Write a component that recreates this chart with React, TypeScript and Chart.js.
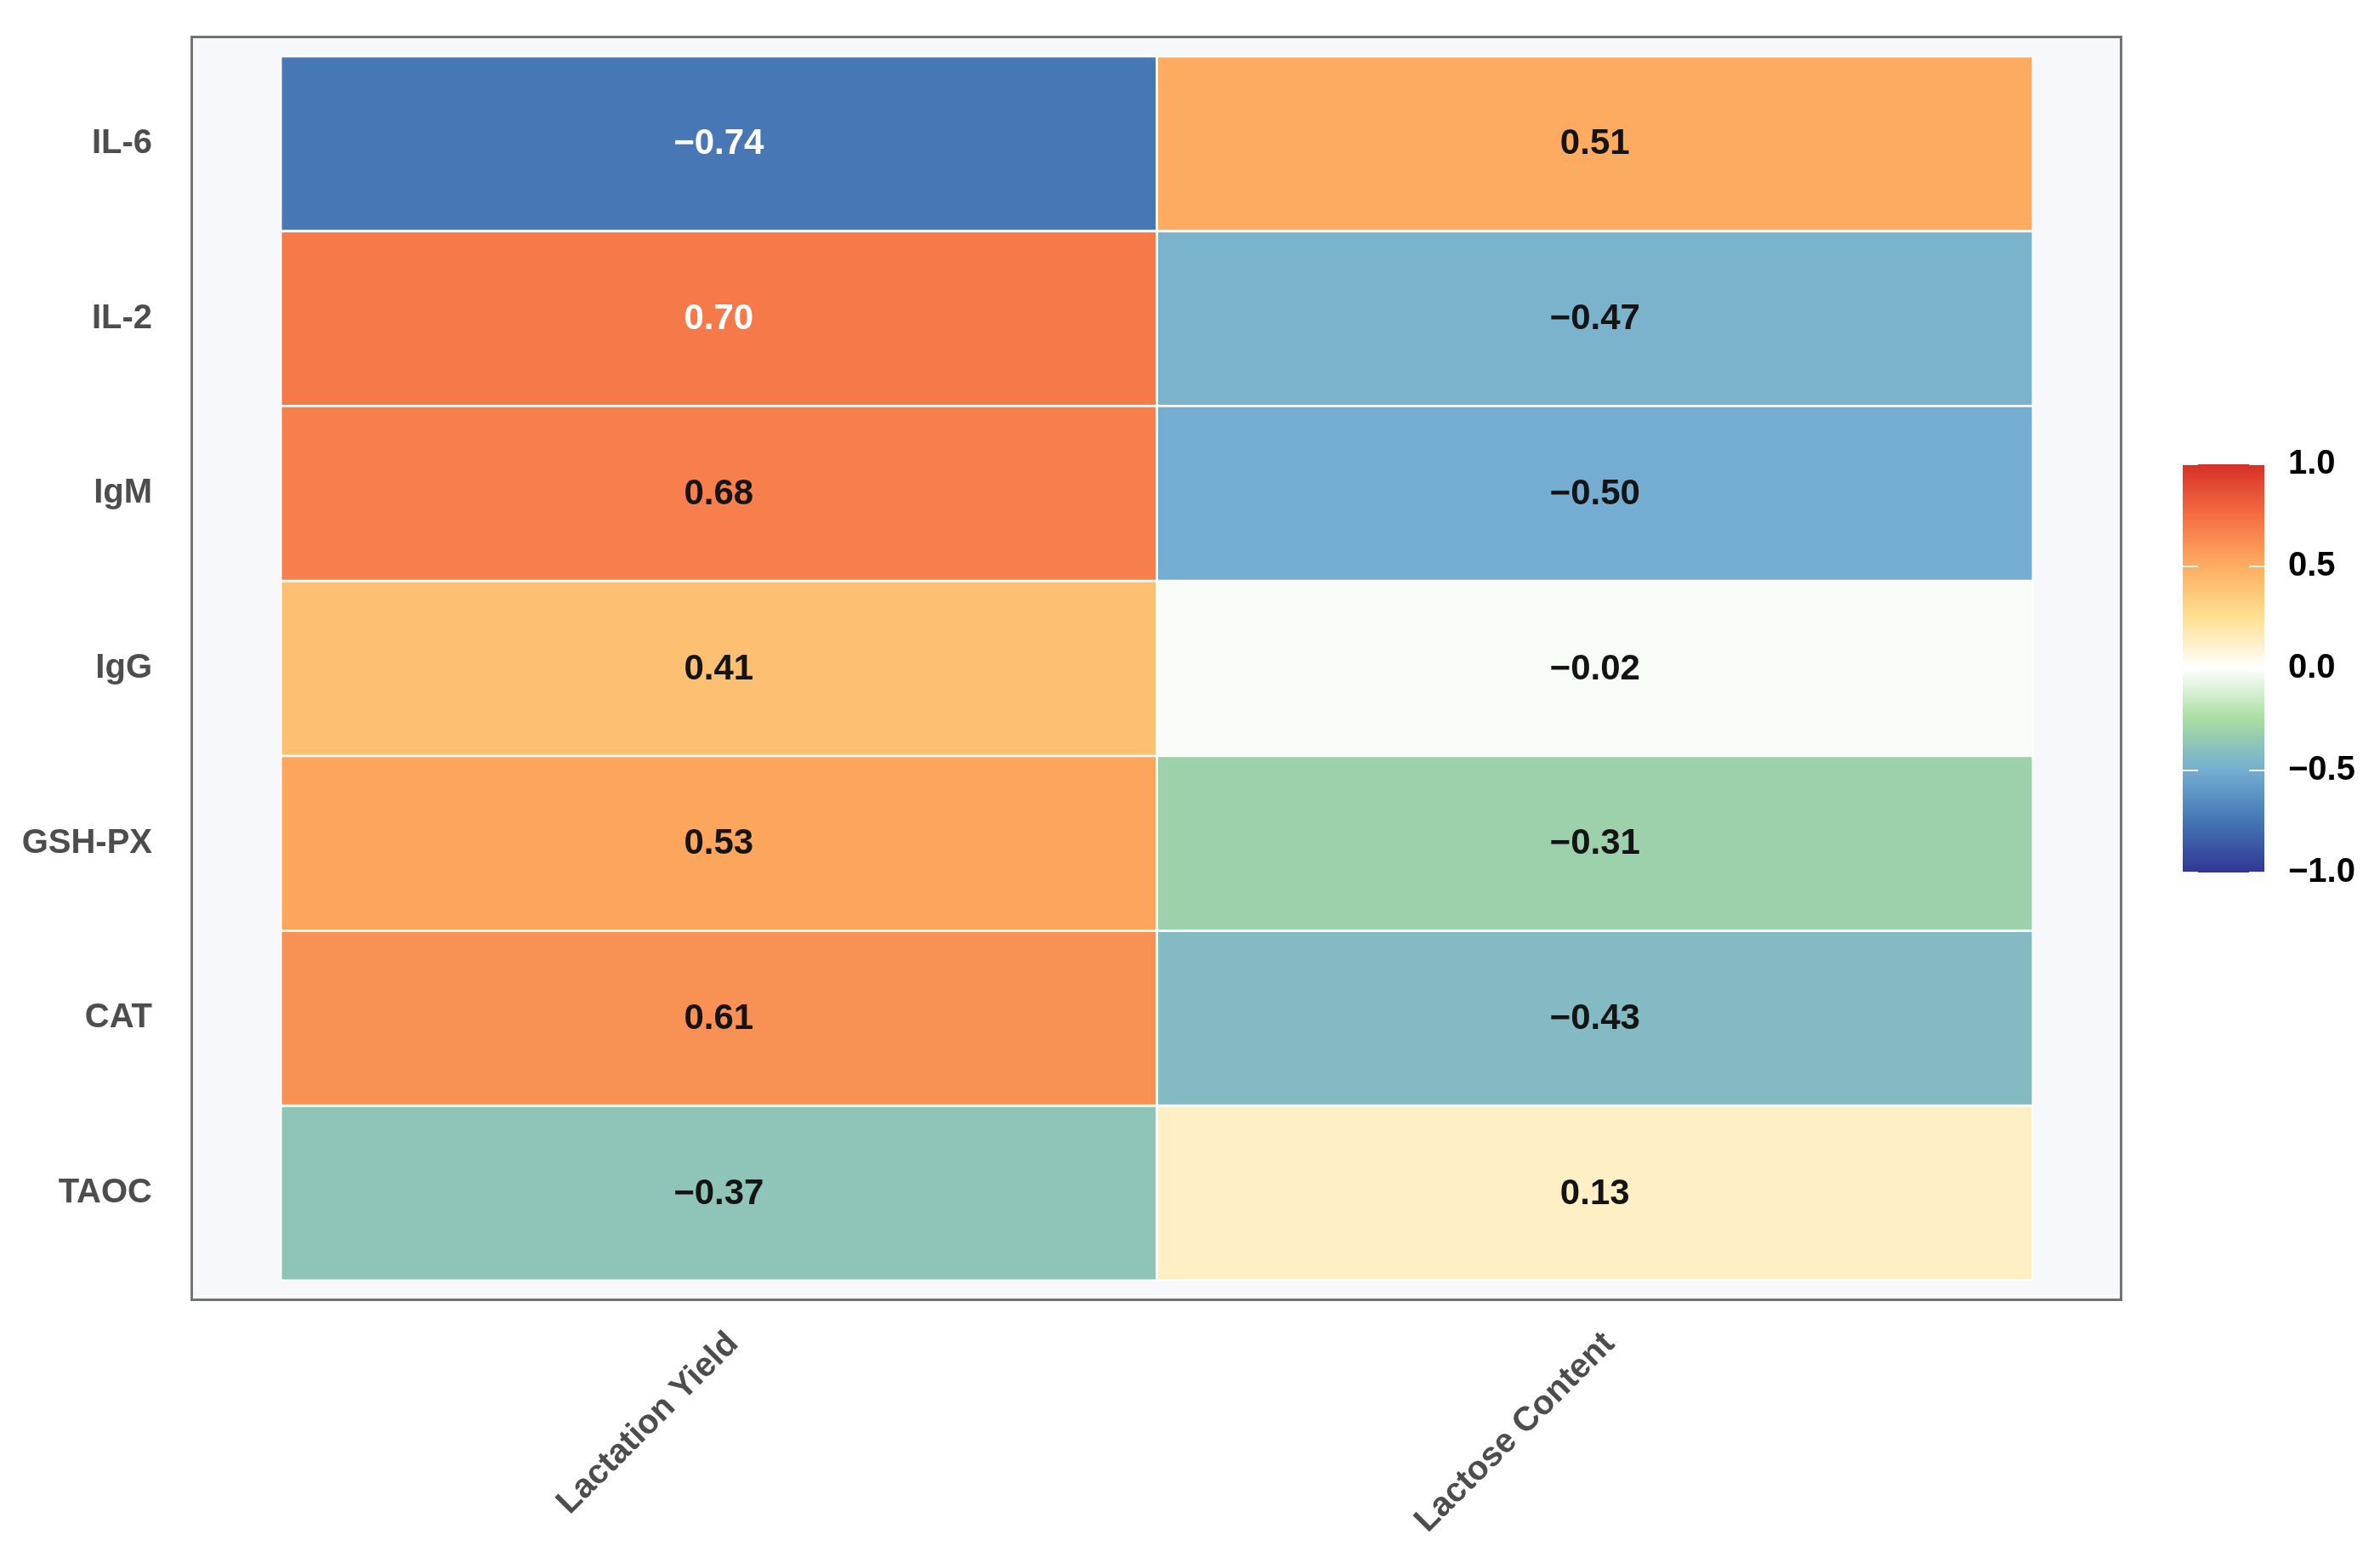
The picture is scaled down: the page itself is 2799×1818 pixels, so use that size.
import React, { useEffect, useRef } from 'react';
import { Chart, registerables } from 'chart.js';

Chart.register(...registerables);

// ---- data ----
const rowLabels = ['IL-6', 'IL-2', 'IgM', 'IgG', 'GSH-PX', 'CAT', 'TAOC'];
const colLabels = ['Lactation Yield', 'Lactose Content'];
const lactationYield = [-0.74, 0.70, 0.68, 0.41, 0.53, 0.61, -0.37];
const lactoseContent = [0.51, -0.47, -0.50, -0.02, -0.31, -0.43, 0.13];
const colorbarTicks = [1.0, 0.5, 0.0, -0.5, -1.0];
const colorStopValues = [-1, -0.75, -0.5, -0.25, 0, 0.25, 0.5, 0.75, 1];
const colorStopColors = ['#313695', '#4575b4', '#74add1', '#a8dca0', '#ffffff', '#fee090', '#fdae61', '#f46d43', '#d73027'];

const FONT = '"Liberation Sans", Arial, Helvetica, sans-serif';

function hexRgb(h: string) {
  const n = parseInt(h.slice(1), 16);
  return [(n >> 16) & 255, (n >> 8) & 255, n & 255];
}

function colorFor(v: number) {
  const vs = colorStopValues;
  let i = 0;
  while (i < vs.length - 2 && v > vs[i + 1]) i++;
  const t = Math.min(1, Math.max(0, (v - vs[i]) / (vs[i + 1] - vs[i])));
  const a = hexRgb(colorStopColors[i]);
  const b = hexRgb(colorStopColors[i + 1]);
  const c = a.map((x, k) => Math.round(x + (b[k] - x) * t));
  return `rgb(${c[0]},${c[1]},${c[2]})`;
}

function fmt(v: number) {
  const s = Math.abs(v).toFixed(2);
  return v < 0 ? '\u2212' + s : s;
}

const series = [lactationYield, lactoseContent];

// colour bar placement (layout only)
const CB = { left: 2567, top: 546, width: 96, height: 480, labelX: 2691 };

const heatPlugin = {
  id: 'heatExtras',
  beforeDraw(chart: any) {
    const { ctx, chartArea: a } = chart;
    ctx.save();
    ctx.fillStyle = '#ffffff';
    ctx.fillRect(0, 0, chart.width, chart.height);
    ctx.fillStyle = '#f7f8fc';
    ctx.fillRect(a.left, a.top, a.right - a.left, a.bottom - a.top);
    ctx.restore();
  },
  afterDatasetsDraw(chart: any) {
    const { ctx, chartArea: a } = chart;
    const xs = chart.scales.x;
    const ys = chart.scales.y;
    ctx.save();
    ctx.font = `bold 42px ${FONT}`;
    ctx.textAlign = 'center';
    ctx.textBaseline = 'middle';
    series.forEach((vals, c) => {
      vals.forEach((v, r) => {
        ctx.fillStyle = Math.abs(v) >= 0.7 ? '#ffffff' : '#141414';
        ctx.fillText(fmt(v), xs.getPixelForValue(c), ys.getPixelForValue(r) + 1);
      });
    });
    // panel border
    ctx.strokeStyle = '#737373';
    ctx.lineWidth = 3;
    ctx.strokeRect(a.left - 0.5, a.top - 0.5, a.right - a.left + 1, a.bottom - a.top + 1);
    ctx.restore();
  },
  afterDraw(chart: any) {
    const { ctx } = chart;
    ctx.save();
    const g = ctx.createLinearGradient(0, CB.top + CB.height, 0, CB.top);
    colorStopValues.forEach((v, i) => g.addColorStop((v + 1) / 2, colorStopColors[i]));
    ctx.fillStyle = g;
    ctx.fillRect(CB.left, CB.top, CB.width, CB.height);
    ctx.strokeStyle = 'rgba(255,255,255,0.9)';
    ctx.lineWidth = 2;
    ctx.font = `bold 40px ${FONT}`;
    ctx.textAlign = 'left';
    ctx.textBaseline = 'middle';
    ctx.fillStyle = '#000000';
    colorbarTicks.forEach((v) => {
      const y = CB.top + ((1 - v) / 2) * CB.height;
      ctx.beginPath();
      ctx.moveTo(CB.left, y);
      ctx.lineTo(CB.left + 18, y);
      ctx.moveTo(CB.left + CB.width - 18, y);
      ctx.lineTo(CB.left + CB.width, y);
      ctx.stroke();
      const s = Math.abs(v).toFixed(1);
      ctx.fillText(v < 0 ? '\u2212' + s : s, CB.labelX, y);
    });
    ctx.restore();
  },
};

export default function App() {
  const ref = useRef<HTMLCanvasElement>(null);

  useEffect(() => {
    document.body.style.margin = '0';
    document.body.style.overflow = 'hidden';
    const canvas = ref.current;
    if (!canvas) return;

    const data: any[] = [];
    const colors: string[] = [];
    series.forEach((vals, c) => {
      vals.forEach((v, r) => {
        data.push({ x: [c - 0.5, c + 0.5], y: r });
        colors.push(colorFor(v));
      });
    });

    const tickFont = { family: FONT, size: 40, weight: 'bold' as const };

    const chart = new Chart(canvas, {
      type: 'bar',
      data: {
        datasets: [
          {
            data,
            backgroundColor: colors,
            borderColor: '#ffffff',
            borderWidth: 1.75,
            borderSkipped: false,
            categoryPercentage: 1,
            barPercentage: 1,
          } as any,
        ],
      },
      options: {
        indexAxis: 'y',
        animation: false,
        responsive: false,
        events: [],
        layout: { padding: { top: 44, right: 305, bottom: 0, left: 0 } },
        plugins: { legend: { display: false }, tooltip: { enabled: false } },
        scales: {
          x: {
            type: 'linear',
            min: -0.601,
            max: 1.6,
            bounds: 'data',
            offset: false,
            grid: { display: false, offset: false },
            border: { display: false },
            afterBuildTicks: (s: any) => {
              s.ticks = colLabels.map((_, i) => ({ value: i }));
            },
            afterFit: (s: any) => {
              s.height = 290;
              s.paddingLeft = 0;
              s.paddingRight = 0;
            },
            ticks: {
              autoSkip: false,
              minRotation: 45,
              maxRotation: 45,
              padding: 21,
              labelOffset: 17,
              color: '#4d4d4d',
              font: tickFont,
              callback: (v: any) => colLabels[Math.round(Number(v))],
            },
          },
          y: {
            type: 'linear',
            reverse: true,
            min: -0.607,
            max: 6.607,
            bounds: 'data',
            offset: false,
            grid: { display: false, offset: false },
            border: { display: false },
            afterBuildTicks: (s: any) => {
              s.ticks = rowLabels.map((_, i) => ({ value: i }));
            },
            afterFit: (s: any) => {
              s.width = 226;
              s.paddingTop = 0;
              s.paddingBottom = 0;
            },
            ticks: {
              autoSkip: false,
              padding: 39,
              color: '#4d4d4d',
              font: tickFont,
              callback: (v: any) => rowLabels[Math.round(Number(v))],
            },
          },
        },
      } as any,
      plugins: [heatPlugin],
    });

    return () => {
      chart.destroy();
    };
  }, []);

  return (
    <div style={{ width: 2799, height: 1818, position: 'relative' }}>
      <canvas ref={ref} width={2799} height={1818} style={{ display: 'block', width: 2799, height: 1818 }} />
    </div>
  );
}
